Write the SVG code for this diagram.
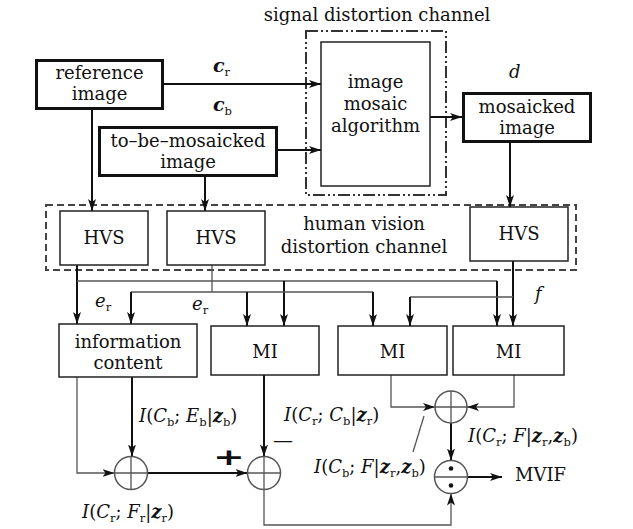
<svg xmlns="http://www.w3.org/2000/svg" width="633" height="529" viewBox="0 0 633 529">
<defs>
<marker id="ar" viewBox="0 0 12 8" refX="12" refY="4" markerWidth="12" markerHeight="8" markerUnits="userSpaceOnUse" orient="auto">
<path d="M0,0 L12,4 L0,8 L3,4 z" fill="#111"/>
</marker>
<style>
text{font-family:"DejaVu Serif","Liberation Serif",serif;font-size:18px;fill:#111}
.c{text-anchor:middle}
.it{font-style:italic}
.s{font-size:11.5px;font-style:normal;font-weight:normal}
.bz{font-weight:bold;font-style:italic}
.big{font-size:19px}
.plus{font-family:"DejaVu Sans",sans-serif;font-weight:bold;font-size:38px}
.dash{font-size:20px}
.thick{fill:#fff;stroke:#111;stroke-width:3}
.box{fill:#fff;stroke:#222;stroke-width:1.5}
.k{fill:none;stroke:#111;stroke-width:2}
.g{fill:none;stroke:#555;stroke-width:1.3}
.circ{fill:#fff;stroke:#555;stroke-width:1.5}
</style>
</defs>
<rect width="633" height="529" fill="#fff"/>

<g id="signal-channel">
<rect x="306" y="31" width="140" height="164" fill="none" stroke="#333" stroke-width="2" stroke-dasharray="12,3,2,3,2,3"/>
<text class="c" x="377" y="21">signal distortion channel</text>
</g>
<g id="human-channel">
<rect x="46" y="205" width="530" height="65" fill="none" stroke="#444" stroke-width="2" stroke-dasharray="7,4"/>
<text class="c" x="364" y="230">human vision</text>
<text class="c" x="364" y="253">distortion channel</text>
</g>

<g id="connectors">
<path class="k" d="M164,84 H321" marker-end="url(#ar)"/>
<path class="k" d="M278,150 H321" marker-end="url(#ar)"/>
<path class="k" d="M430,117 H462" marker-end="url(#ar)"/>
<path class="k" d="M510,143 V207" marker-end="url(#ar)"/>
<path class="k" d="M92,110 V211" marker-end="url(#ar)"/>
<path class="k" d="M205,177 V211" marker-end="url(#ar)"/>
<path class="k" d="M77,265 V324" marker-end="url(#ar)"/>
<path class="g" d="M77,281 H497"/>
<path class="k" d="M284,281 V326" marker-end="url(#ar)"/>
<path class="k" d="M497,281 V326" marker-end="url(#ar)"/>
<path class="g" d="M212,265 V292"/>
<path class="g" d="M131,292 H373"/>
<path class="k" d="M131,292 V324" marker-end="url(#ar)"/>
<path class="k" d="M247,292 V326" marker-end="url(#ar)"/>
<path class="k" d="M373,292 V326" marker-end="url(#ar)"/>
<path class="k" d="M513,261 V326" marker-end="url(#ar)"/>
<path class="g" d="M410,297 H513"/>
<path class="k" d="M410,297 V326" marker-end="url(#ar)"/>
<path class="g" d="M77,377 V473 H114.5" marker-end="url(#ar)"/>
<path class="k" d="M132,377 V456.5" marker-end="url(#ar)"/>
<path class="k" d="M147.5,473 H247.5" marker-end="url(#ar)"/>
<path class="k" d="M264,375 V456.5" marker-end="url(#ar)"/>
<path class="g" d="M264,489.5 V525 H451 V493.5" marker-end="url(#ar)"/>
<path class="g" d="M391,375 V407 H435" marker-end="url(#ar)"/>
<path class="g" d="M514,375 V407 H467" marker-end="url(#ar)"/>
<path class="k" d="M451,423 V460.5" marker-end="url(#ar)"/>
<path class="k" d="M467.5,477 H502" marker-end="url(#ar)"/>
<path class="g" d="M424,416 L413,452"/>
</g>

<g id="reference-image">
<rect class="thick" x="36.5" y="60.5" width="126" height="48"/>
<text class="c" x="99.5" y="79">reference</text>
<text class="c" x="99.5" y="100">image</text>
</g>
<g id="to-be-mosaicked-image">
<rect class="thick" x="99.5" y="127.5" width="177" height="48"/>
<text class="c" x="188" y="147">to–be–mosaicked</text>
<text class="c" x="188" y="168">image</text>
</g>
<g id="image-mosaic-algorithm">
<rect class="box" x="321" y="42" width="109" height="144"/>
<text class="c" x="375.5" y="88">image</text>
<text class="c" x="375.5" y="110">mosaic</text>
<text class="c" x="375.5" y="132">algorithm</text>
</g>
<g id="mosaicked-image">
<rect class="thick" x="463.5" y="93.5" width="127" height="48"/>
<text class="c" x="527" y="113">mosaicked</text>
<text class="c" x="527" y="134">image</text>
</g>
<g id="hvs1">
<rect class="box" x="60" y="211" width="88" height="54"/>
<text class="c" x="104" y="244">HVS</text>
</g>
<g id="hvs2">
<rect class="box" x="167" y="211" width="98" height="54"/>
<text class="c" x="216" y="244">HVS</text>
</g>
<g id="hvs3">
<rect class="box" x="470" y="207" width="98" height="54"/>
<text class="c" x="519" y="240">HVS</text>
</g>
<g id="information-content">
<rect class="box" x="59" y="324" width="138" height="53"/>
<text class="c" x="128" y="348">information</text>
<text class="c" x="128" y="369">content</text>
</g>
<g id="mi1">
<rect class="box" x="211" y="326" width="108" height="49"/>
<text class="c" x="265" y="358">MI</text>
</g>
<g id="mi2">
<rect class="box" x="338" y="326" width="109" height="49"/>
<text class="c" x="392.5" y="358">MI</text>
</g>
<g id="mi3">
<rect class="box" x="453" y="326" width="111" height="49"/>
<text class="c" x="508.5" y="358">MI</text>
</g>
<g id="sum1">
<circle class="circ" cx="131" cy="473" r="16.5"/>
<path class="g" d="M114.5,473 H147.5 M131,456.5 V489.5"/>
</g>
<g id="sum2">
<circle class="circ" cx="264" cy="473" r="16.5"/>
<path class="g" d="M247.5,473 H280.5 M264,456.5 V489.5"/>
</g>
<g id="sum3">
<circle class="circ" cx="451" cy="407" r="16"/>
<path class="g" d="M435,407 H467 M451,391 V423"/>
</g>
<g id="divide">
<circle class="circ" cx="451" cy="477" r="16.5"/>
<path class="g" d="M434.5,477 H467.5"/>
<circle cx="451" cy="468.5" r="2.3" fill="#111"/>
<circle cx="451" cy="485.5" r="2.3" fill="#111"/>
</g>

<g id="labels">
<text x="213" y="72" class="bz big">c<tspan class="s" dy="4">r</tspan></text>
<text x="213" y="111" class="bz big">c<tspan class="s" dy="4">b</tspan></text>
<text x="509" y="78" class="it">d</text>
<text x="95" y="307" class="it">e<tspan class="s" dy="4">r</tspan></text>
<text x="192" y="310" class="it">e<tspan class="s" dy="4">r</tspan></text>
<text x="535" y="300" class="it">f</text>
<text x="139" y="422"><tspan class="it">I</tspan>(<tspan class="it">C</tspan><tspan class="s" dy="4">b</tspan><tspan dy="-4">; </tspan><tspan class="it">E</tspan><tspan class="s" dy="4">b</tspan><tspan dy="-4">|</tspan><tspan class="bz">z</tspan><tspan class="s" dy="4">b</tspan><tspan dy="-4">)</tspan></text>
<text x="284" y="421"><tspan class="it">I</tspan>(<tspan class="it">C</tspan><tspan class="s" dy="4">r</tspan><tspan dy="-4">; </tspan><tspan class="it">C</tspan><tspan class="s" dy="4">b</tspan><tspan dy="-4">|</tspan><tspan class="bz">z</tspan><tspan class="s" dy="4">r</tspan><tspan dy="-4">)</tspan></text>
<text x="468" y="442"><tspan class="it">I</tspan>(<tspan class="it">C</tspan><tspan class="s" dy="4">r</tspan><tspan dy="-4">; </tspan><tspan class="it">F</tspan>|<tspan class="bz">z</tspan><tspan class="s" dy="4">r</tspan><tspan dy="-4">,</tspan><tspan class="bz">z</tspan><tspan class="s" dy="4">b</tspan><tspan dy="-4">)</tspan></text>
<text x="314" y="473"><tspan class="it">I</tspan>(<tspan class="it">C</tspan><tspan class="s" dy="4">b</tspan><tspan dy="-4">; </tspan><tspan class="it">F</tspan>|<tspan class="bz">z</tspan><tspan class="s" dy="4">r</tspan><tspan dy="-4">,</tspan><tspan class="bz">z</tspan><tspan class="s" dy="4">b</tspan><tspan dy="-4">)</tspan></text>
<text x="82" y="518"><tspan class="it">I</tspan>(<tspan class="it">C</tspan><tspan class="s" dy="4">r</tspan><tspan dy="-4">; </tspan><tspan class="it">F</tspan><tspan class="s" dy="4">r</tspan><tspan dy="-4">|</tspan><tspan class="bz">z</tspan><tspan class="s" dy="4">r</tspan><tspan dy="-4">)</tspan></text>
<text class="c plus" transform="translate(229,465) scale(1,0.62)">+</text>
<text x="283" y="447" class="c dash">—</text>
<text x="515" y="481">MVIF</text>
</g>
</svg>
